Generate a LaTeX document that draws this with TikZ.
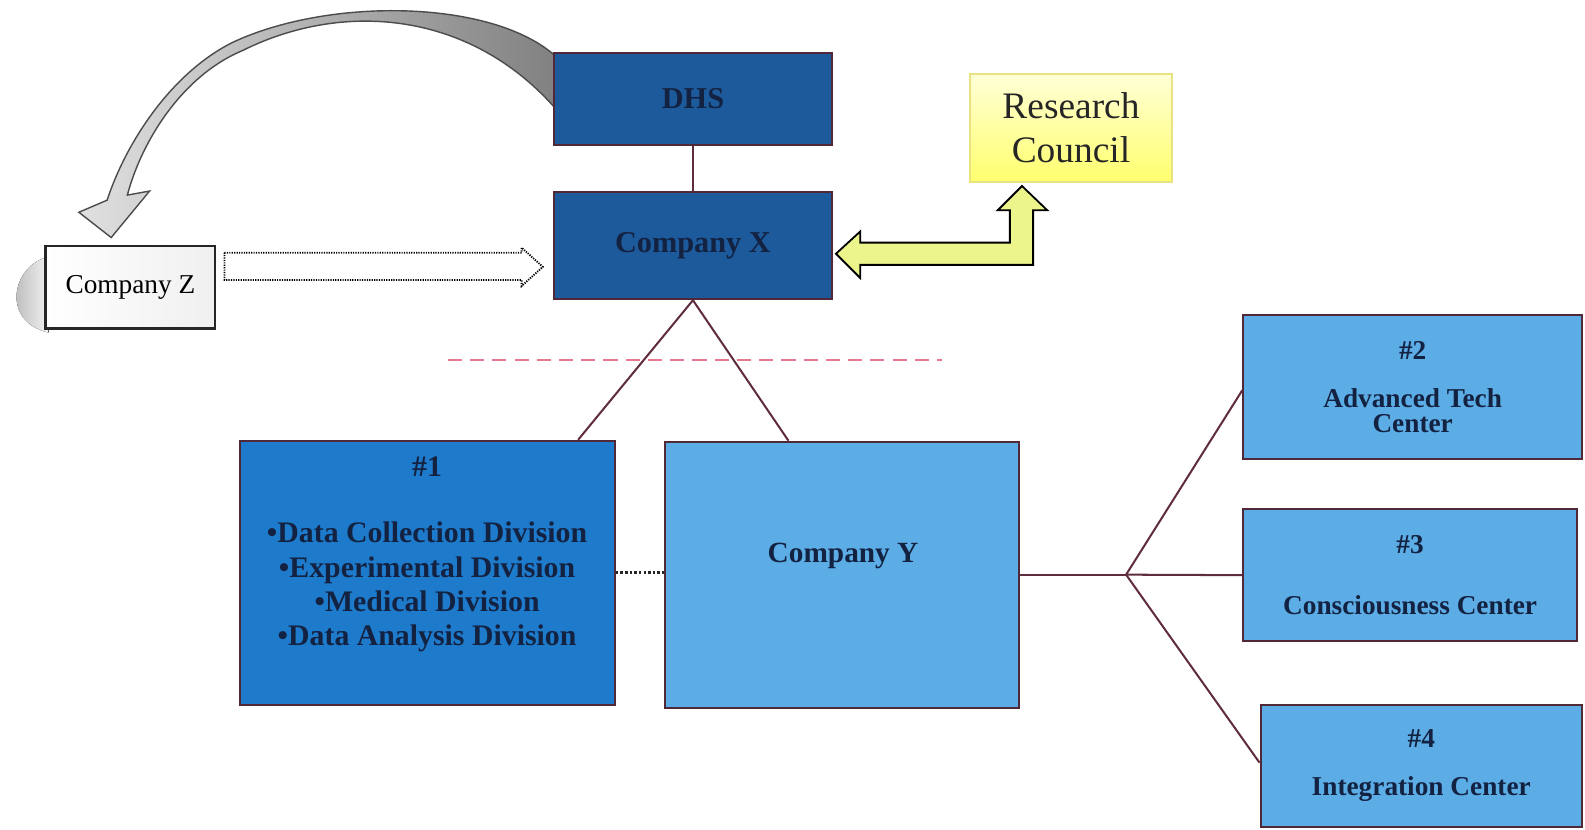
\documentclass[tikz,border=0pt]{standalone}
\usepackage{fontspec}
\setmainfont{Liberation Serif}
\usetikzlibrary{calc}
\definecolor{dhsblue}{RGB}{29,90,156}
\definecolor{oneblue}{RGB}{30,122,202}
\definecolor{ltblue}{RGB}{92,173,230}
\definecolor{navytext}{RGB}{20,34,66}
\definecolor{boxline}{RGB}{80,40,55}
\definecolor{connline}{RGB}{95,45,60}
\definecolor{pinkdash}{RGB}{230,120,145}
\definecolor{arrowyellow}{RGB}{236,244,140}
\definecolor{rctop}{RGB}{255,255,215}
\definecolor{rcbot}{RGB}{255,255,110}
\definecolor{rcline}{RGB}{232,226,130}
\begin{document}
\begin{tikzpicture}[x=1pt,y=-1pt,
  basebox/.style={draw=boxline, line width=2pt, inner sep=0pt, align=center, text=navytext},
  darkbox/.style={basebox, fill=dhsblue, minimum width=275pt, font=\bfseries\fontsize{30}{34}\selectfont},
  midbox/.style={basebox, fill=oneblue},
  lightbox/.style={basebox, fill=ltblue},
  centerbox/.style={lightbox, font=\bfseries\fontsize{27}{25}\selectfont},
  boxtext/.style={inner sep=0pt, align=center, text=navytext},
  conn/.style={draw=connline, line width=2pt},
]
\useasboundingbox (0,0) rectangle (1568,821);

% grey curved arrow (behind DHS)
\draw[line width=1.4pt, draw=black!70, left color=black!12, right color=black!50]
  (556,62) .. controls (500,0) and (330,-5) .. (230,42)
  .. controls (170,72) and (125,140) .. (106,198)
  -- (78,210) -- (110,235) -- (148,189) -- (126,193)
  .. controls (140,140) and (180,75) .. (240,50)
  .. controls (340,0) and (470,10) .. (556,115) -- cycle;

% page curl behind Company Z
\fill[left color=black!35, right color=black!5]
  (48,254) .. controls (12,262) and (0,318) .. (48,329) -- cycle;

% boxes
\node[darkbox, minimum height=91pt] (dhs) at (685.5,97.5) {DHS};
\node[darkbox, minimum height=106pt] (cx) at (685.5,243) {Company X};
\node[draw=rcline, line width=2pt, top color=rctop, bottom color=rcbot,
      minimum width=199pt, minimum height=107pt, inner sep=0pt, align=center,
      font=\fontsize{37}{43}\selectfont, text=black!85] (rc) at (1059.5,126.5) {Research\\Council};
\node[draw=black!85, line width=2.2pt, left color=white, right color=black!6,
      minimum width=168pt, minimum height=82pt, inner sep=0pt,
      font=\fontsize{27}{30}\selectfont] (cz) at (129,284) {Company Z};

\node[midbox, minimum width=371pt, minimum height=261pt] (b1) at (422.5,566.5) {};
\node[boxtext, font=\bfseries\fontsize{29.5}{34}\selectfont] (b1t) at ($(b1)+(0,-18)$)
  {\#1\\[32pt]•Data Collection Division\\•Experimental Division\\•Medical Division\\•Data Analysis Division};
\node[lightbox, minimum width=350pt, minimum height=263pt] (cy) at (833,568.5) {};
\node[boxtext, font=\bfseries\fontsize{29}{34}\selectfont] (cyt) at ($(cy)+(1,-19)$) {Company Y};

\node[centerbox, minimum width=335pt, minimum height=142pt] (c2) at (1397.5,383) {\#2\\[22pt]Advanced Tech\\Center};
\node[centerbox, minimum width=330pt, minimum height=130pt] (c3) at (1395,569) {\#3\\[35pt]Consciousness Center};
\node[centerbox, minimum width=318pt, minimum height=121pt] (c4) at (1406,757.5) {\#4\\[22pt]Integration Center};

% connectors
\draw[conn] (dhs.south) -- (cx.north);
\draw[conn] (cx.south) -- ($(b1.north west)+(336,0)$);
\draw[conn] (cx.south) -- ($(cy.north west)+(123,0)$);
\coordinate (br) at ($(cy.east)+(105,0)$);
\draw[conn] (cy.east) -- (br);
\draw[conn] (br) -- ($(c2.west)+(0,3)$);
\draw[conn] (br) -- (c3.west);
\draw[conn] (br) -- ($(c4.west)+(0,-3)$);
\draw[line width=2.6pt, dotted, black!85] (b1.east) -- (cy.west |- b1.east);

% pink dashed line
\coordinate (pd1) at (443,356);
\coordinate (pd2) at (932,356);
\draw[pinkdash, line width=1.8pt, dash pattern=on 14pt off 8pt] (pd1) -- (pd2);

% dotted hollow arrow Company Z -> Company X
\draw[dash pattern=on 1.2pt off 1.2pt, line width=1.8pt, fill=white]
  (222,250) -- (516,250) -- (516,245) -- (537,264) -- (516,283) -- (516,277) -- (222,277) -- cycle;

% yellow double arrow Company X <-> Research Council
\draw[line width=1.8pt, fill=arrowyellow, line join=miter]
  (827,251) -- (851,229) -- (851,240) -- (999,240) -- (999,208) -- (987,208)
  -- (1011,184) -- (1036,208) -- (1022,208) -- (1022,262) -- (851,262) -- (851,275) -- cycle;
\end{tikzpicture}
\end{document}
